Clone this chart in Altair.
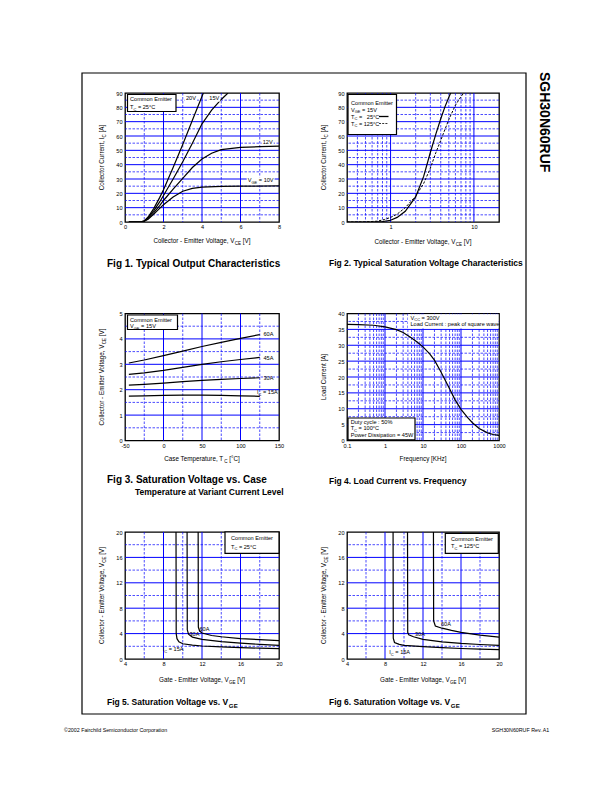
import altair as alt
import pandas as pd

# ---------------- Fig 1: typical output characteristics ----------------
f1_x_20v = [0.2, 0.8, 1.0, 1.2, 1.5, 1.8, 2.0, 2.5, 3.0, 3.5, 4.07]
f1_y_20v = [0, 0, 0.8, 3.5, 9.5, 17, 22.5, 38, 54, 71, 90]
f1_x_15v = [0.2, 0.8, 1.0, 1.2, 1.5, 1.8, 2.0, 2.5, 3.0, 3.5, 4.0, 4.5, 5.0, 5.35]
f1_y_15v = [0, 0, 0.7, 3, 8, 14, 18.5, 30, 42, 55, 68.5, 78, 85.5, 90]
f1_x_12v = [0.2, 0.8, 1.0, 1.2, 1.5, 1.8, 2.0, 2.5, 3.0, 3.5, 4.0, 4.5, 5.0, 6.0, 7.0, 8.0]
f1_y_12v = [0, 0, 0.6, 2.5, 6.5, 11.5, 15, 23, 30.5, 38, 44, 48, 50.5, 52, 52.6, 53]
f1_x_10v = [0.2, 0.8, 1.0, 1.2, 1.5, 1.8, 2.0, 2.5, 3.0, 3.5, 4.0, 5.0, 6.0, 8.0]
f1_y_10v = [0, 0, 0.5, 2, 5.5, 9.5, 12, 17.5, 21.5, 23.5, 24.3, 24.8, 25, 25.2]

# ---------------- Fig 2: saturation voltage characteristics ----------------
f2_x_25c = [0.3, 0.6, 0.8, 1.0, 1.2, 1.5, 2.0, 2.5, 3.0, 3.5, 4.0, 4.5, 5.0, 5.26]
f2_y_25c = [0, 0, 0.3, 1.2, 3.2, 7.5, 17.5, 32, 48.5, 61.5, 72, 80.5, 87, 90]
f2_x_125c = [0.3, 0.5, 0.7, 0.85, 1.0, 1.2, 1.5, 2.0, 2.5, 3.0, 3.5, 4.0, 5.0, 6.0, 7.0, 7.55]
f2_y_125c = [0, 0.1, 0.6, 1.8, 3.2, 5.5, 10, 18, 27, 37.5, 48.5, 57, 71.5, 81.5, 87.5, 90]

# ---------------- Fig 3: VCE vs case temperature ----------------
f3_tc = [-45, -25, 0, 25, 50, 75, 100, 125]
f3_60a = [3.05, 3.17, 3.34, 3.52, 3.70, 3.86, 4.02, 4.17]
f3_45a = [2.60, 2.66, 2.76, 2.88, 3.00, 3.10, 3.19, 3.27]
f3_30a = [2.18, 2.21, 2.26, 2.32, 2.37, 2.41, 2.44, 2.47]
f3_15a = [1.75, 1.76, 1.78, 1.79, 1.79, 1.78, 1.76, 1.74]

# ---------------- Fig 4: load current vs frequency ----------------
f4_freq = [0.1, 0.2, 0.5, 1, 2, 3, 5, 7, 10, 15, 20, 30, 40, 50, 70, 100, 150, 200, 300, 500, 700, 1000]
f4_load = [36.6, 36.5, 36.3, 35.8, 34.9, 34.0, 32.3, 31.0, 29.5, 27.3, 25.3, 21.5, 18.6, 16.3, 12.8, 9.8, 7.2, 5.6, 3.8, 2.4, 1.9, 1.6]

# ---------------- Fig 5: VCE vs VGE, Tc = 25 C ----------------
f5_x_15a = [9.30, 9.32, 9.40, 9.60, 10.0, 11.0, 12.0, 14.0, 16.0, 18.0, 20.0]
f5_y_15a = [20, 4.0, 3.2, 2.7, 2.4, 2.2, 2.05, 1.9, 1.8, 1.7, 1.63]
f5_x_30a = [10.45, 10.47, 10.6, 11.0, 12.0, 14.0, 16.0, 18.0, 20.0]
f5_y_30a = [20, 4.6, 3.9, 3.45, 3.1, 2.75, 2.5, 2.3, 2.15]
f5_x_60a = [11.6, 11.62, 11.75, 12.0, 13.0, 14.0, 16.0, 18.0, 20.0]
f5_y_60a = [20, 5.0, 4.4, 4.1, 3.7, 3.5, 3.2, 3.05, 2.9]

# ---------------- Fig 6: VCE vs VGE, Tc = 125 C ----------------
f6_x_15a = [8.85, 8.87, 9.0, 9.5, 10.0, 12.0, 14.0, 16.0, 18.0, 20.0]
f6_y_15a = [20, 3.3, 2.6, 2.3, 2.15, 1.95, 1.8, 1.65, 1.55, 1.48]
f6_x_30a = [10.37, 10.39, 10.5, 11.0, 12.0, 14.0, 16.0, 18.0, 20.0]
f6_y_30a = [20, 4.2, 3.8, 3.5, 3.1, 2.7, 2.45, 2.28, 2.15]
f6_x_60a = [13.1, 13.12, 13.3, 14.0, 15.0, 16.0, 18.0, 20.0]
f6_y_60a = [20, 6.0, 5.2, 4.85, 4.5, 4.2, 3.75, 3.45]

# ---------------- tick values ----------------
ticks_f1_x = [0, 2, 4, 6, 8]
ticks_0_90 = [0, 10, 20, 30, 40, 50, 60, 70, 80, 90]
ticks_f2_x = [1, 10]
ticks_f3_x = [-50, 0, 50, 100, 150]
ticks_f3_y = [0, 1, 2, 3, 4, 5]
ticks_f4_x = [0.1, 1, 10, 100, 1000]
ticks_f4_y = [0, 5, 10, 15, 20, 25, 30, 35, 40]
ticks_4_20 = [4, 8, 12, 16, 20]
ticks_0_20 = [0, 4, 8, 12, 16, 20]

FONT = "Liberation Sans"
BLUE = "#0000ff"

# ---------------- text metrics (Arial/Helvetica compatible) ----------------
HELV = dict(zip(" !%(),-./:=[]°©", [278, 278, 889, 333, 333, 278, 333, 278, 278, 278, 584, 278, 278, 400, 737]))
HELV.update({d: 556 for d in "0123456789"})
HELV.update(dict(zip("ABCDEFGHIJKLMNOPQRSTUVWXYZ",
                     [667, 667, 722, 722, 667, 611, 778, 722, 278, 500, 667, 556, 833, 722, 778, 667, 778, 722, 667, 611, 722, 667, 944, 667, 667, 611])))
HELV.update(dict(zip("abcdefghijklmnopqrstuvwxyz",
                     [556, 556, 500, 556, 556, 278, 556, 556, 222, 222, 500, 222, 833, 556, 556, 556, 556, 333, 500, 278, 556, 500, 722, 500, 500, 500])))
HELVB = dict(zip(" .,-:%", [278, 278, 278, 333, 333, 889]))
HELVB.update({d: 556 for d in "0123456789"})
HELVB.update(dict(zip("ABCDEFGHIJKLMNOPQRSTUVWXYZ",
                      [722, 722, 722, 722, 667, 611, 778, 722, 278, 556, 722, 611, 833, 722, 778, 667, 778, 722, 667, 611, 722, 667, 944, 667, 667, 611])))
HELVB.update(dict(zip("abcdefghijklmnopqrstuvwxyz",
                      [556, 611, 556, 611, 556, 333, 611, 611, 278, 278, 556, 278, 889, 611, 611, 611, 611, 389, 556, 333, 611, 556, 778, 556, 556, 500])))


def tw(t, size, bold=False):
    tb = HELVB if bold else HELV
    return sum(tb.get(c, 556) for c in t) * size / 1000.0


def rich(segs, x, y, size, anchor="start", rot=False, bold=False):
    """Text with subscripts; (x, y) = page position, y is the visual middle."""
    parts = []
    for seg in segs:
        t, sub = seg if isinstance(seg, tuple) else (seg, False)
        parts.append((t, size * (0.72 if sub else 1.0), sub))
    total = sum(tw(t, fs, bold) for t, fs, _ in parts)
    pos = {"start": 0.0, "middle": -total / 2, "end": -total}[anchor]
    rows = []
    base = size * 0.36
    for t, fs, sub in parts:
        lead = len(t) - len(t.lstrip(" "))
        p = pos + tw(t[:lead], fs, bold)
        shift = size * 0.32 if sub else 0.0
        if t.strip():
            if rot:
                rows.append(dict(x=x + base + shift, y=y - p, t=t.strip(), s=fs))
            else:
                rows.append(dict(x=x + p, y=y + base + shift, t=t.strip(), s=fs))
        pos += tw(t, fs, bold)
    return rows


def label_bg(segs, x, y, size):
    """White patch behind an in-plot label (the reference hides grid lines there)."""
    w = sum(tw(t if isinstance(t, str) else t[0], size * (0.72 if isinstance(t, tuple) else 1.0)) for t in segs)
    return dict(x1=x - 1, y1=y - size * 0.55, x2=x + w + 1, y2=y + size * 0.6, f="white", st="transparent", sw=0)


def curves(*series):
    rows = []
    for name, xs, ys in series:
        for i, (a, b) in enumerate(zip(xs, ys)):
            rows.append(dict(x=a, y=b, s=name, i=i))
    return pd.DataFrame(rows)


def mk_axis(vals, pad):
    return alt.Axis(values=vals, labelExpr="datum.value + ''", title=None, grid=False, ticks=False,
                    domain=False, labelPadding=pad, labelFontSize=5.6, labelColor="black",
                    labelFont=FONT, labelOverlap=False, labelFlush=False)


PX = lambda f: alt.X(f, type="quantitative", scale=None)
PY = lambda f: alt.Y(f, type="quantitative", scale=None)


def shift_df(rows, ox, oy, keys_x=("x",), keys_y=("y",)):
    df = pd.DataFrame(rows)
    for k in keys_x:
        df[k] = df[k] - ox
    for k in keys_y:
        df[k] = df[k] - oy
    return df


def text_layer(rows, ox, oy, **kw):
    return alt.Chart(shift_df(list(rows), ox, oy)).mark_text(
        align="left", baseline="alphabetic", color="black", font=FONT, **kw).encode(
        x=PX("x"), y=PY("y"), text="t:N", size=alt.Size("s:Q", scale=None))


def panel(o, pw, ph, xsc, ysc, xvals, yvals, vmaj, vmin, hmaj, hmin, solid, dashed=None,
          rects=(), segs=(), texts=(), rtexts=(), btexts=(), extra=()):
    ox, oy = o
    xa = mk_axis(xvals, 2.5)
    ya = mk_axis(yvals, 3)
    X = lambda f: alt.X(f, type="quantitative", scale=xsc, axis=xa)
    Y = lambda f: alt.Y(f, type="quantitative", scale=ysc, axis=ya)
    L = []
    L.append(alt.Chart(pd.DataFrame({"v": vmin})).mark_rule(color=BLUE, strokeWidth=0.7, strokeDash=[2.5, 1.5]).encode(x=X("v")))
    L.append(alt.Chart(pd.DataFrame({"v": vmaj})).mark_rule(color=BLUE, strokeWidth=1.0).encode(x=X("v")))
    L.append(alt.Chart(pd.DataFrame({"v": hmin})).mark_rule(color=BLUE, strokeWidth=0.7, strokeDash=[2.5, 1.5]).encode(y=Y("v")))
    L.append(alt.Chart(pd.DataFrame({"v": hmaj})).mark_rule(color=BLUE, strokeWidth=1.0).encode(y=Y("v")))
    L.append(alt.Chart(solid).mark_line(color="black", strokeWidth=1.2, clip=True).encode(
        x=X("x"), y=Y("y"), detail="s:N", order="i:Q"))
    if dashed is not None:
        L.append(alt.Chart(dashed).mark_line(color="black", strokeWidth=1.0, strokeDash=[2.5, 1.5], clip=True).encode(
            x=X("x"), y=Y("y"), detail="s:N", order="i:Q"))
    if rects:
        rdf = shift_df(list(rects), ox, oy, ("x1", "x2"), ("y1", "y2"))
        L.append(alt.Chart(rdf).mark_rect().encode(
            x=PX("x1"), x2="x2:Q", y=PY("y1"), y2="y2:Q",
            fill=alt.Fill("f:N", scale=None), stroke=alt.Stroke("st:N", scale=None),
            strokeWidth=alt.StrokeWidth("sw:Q", scale=None)))
    for sg in segs:
        sdf = shift_df([sg], ox, oy, ("x1", "x2"), ("y",))
        kw = dict(color="black", strokeWidth=sg["w"])
        if sg["dash"]:
            kw["strokeDash"] = [2, 1.2]
        L.append(alt.Chart(sdf).mark_rule(**kw).encode(x=PX("x1"), x2="x2:Q", y=PY("y")))
    if texts:
        L.append(text_layer(texts, ox, oy))
    if rtexts:
        L.append(text_layer(rtexts, ox, oy, angle=270))
    if btexts:
        L.append(text_layer(btexts, ox, oy, fontWeight="bold"))
    L.extend(extra)
    return alt.layer(*L).properties(width=pw, height=ph)


def box(x1, y1, x2, y2, fill="white", stroke="black", sw=1.2):
    return dict(x1=x1, y1=y1, x2=x2, y2=y2, f=fill, st=stroke, sw=sw)


S = 5.6    # small annotation text
T = 6.3    # axis title text
C = 10     # caption text
CN = 8.5   # caption text (tighter captions)
lin = lambda lo, hi: alt.Scale(domain=[lo, hi], nice=False, zero=False)
logs = lambda lo, hi: alt.Scale(type="log", domain=[lo, hi], nice=False, zero=False)
minors = lambda decs: [m * d for d in decs for m in range(2, 10)]

VCE_Y = ["Collector - Emitter Voltage, V", ("CE", True), " [V]"]
L10 = ["V", ("GE", True), " = 10V"]

# ---------------- panel 1 (also carries page frame, side title, footer) ----------------
O1 = (124, 92)
side = alt.Chart(pd.DataFrame({"t": ["SGH30N60RUF"]})).mark_text(
    angle=90, align="left", baseline="middle", font=FONT, fontWeight="bold", fontSize=14, color="black").encode(
    x=alt.value(543 - O1[0]), y=alt.value(71 - O1[1]), text="t:N")
p1 = panel(
    O1, 154, 129, lin(0, 8), lin(0, 90), ticks_f1_x, ticks_0_90,
    [2, 4, 6], [1, 3, 5, 7], list(range(10, 90, 10)), list(range(5, 90, 10)),
    curves(("20V", f1_x_20v, f1_y_20v), ("15V", f1_x_15v, f1_y_15v),
           ("12V", f1_x_12v, f1_y_12v), ("10V", f1_x_10v, f1_y_10v)),
    rects=[box(8, 8, 9, 9, "white", "transparent", 0),
           box(81, 72, 525, 713, "transparent", "black", 1.2),
           box(126.5, 93.5, 175, 110.5),
           label_bg(["20V"], 185, 97.3, S), label_bg(["15V"], 208.3, 97.3, S),
           label_bg(["12V"], 261.7, 140.7, S), label_bg(L10, 246.7, 179.3, S)],
    texts=rich(["Common Emitter"], 129, 98.3, S)
    + rich(["T", ("C", True), " = 25°C"], 129, 106, S)
    + rich(["20V"], 185, 97.3, S) + rich(["15V"], 208.3, 97.3, S)
    + rich(["12V"], 261.7, 140.7, S)
    + rich(L10, 246.7, 179.3, S)
    + rich(["Collector - Emitter Voltage, V", ("CE", True), " [V]"], 201, 239.5, T, "middle")
    + rich(["©2002 Fairchild Semiconductor Corporation"], 63, 729, 5.3)
    + rich(["SGH30N60RUF Rev. A1"], 549, 729, 5.3, "end"),
    rtexts=rich(["Collector Current, I", ("C", True), " [A]"], 101, 156.5, T, "middle", rot=True),
    btexts=rich(["Fig 1. Typical Output Characteristics"], 106, 262, C, bold=True),
    extra=[side],
)

# ---------------- panel 2 ----------------
O2 = (346, 92)
p2 = panel(
    O2, 152, 129, logs(0.3, 20), lin(0, 90), ticks_f2_x, ticks_0_90,
    [1, 10], [0.4, 0.5, 0.6, 0.7, 0.8, 0.9] + minors([1]), list(range(10, 90, 10)), list(range(5, 90, 10)),
    curves(("25C", f2_x_25c, f2_y_25c)), curves(("125C", f2_x_125c, f2_y_125c)),
    rects=[box(347, 93.5, 395.5, 133.5)],
    segs=[dict(x1=378, x2=387.5, y=115.5, w=1.3, dash=False), dict(x1=378, x2=387.5, y=122.5, w=0.8, dash=True)],
    texts=rich(["Common Emitter"], 350, 101.5, S)
    + rich(["V", ("GE", True), " = 15V"], 350, 108.5, S)
    + rich(["T", ("C", True), " =", "   25°C"], 350, 115.5, S)
    + rich(["T", ("C", True), " = 125°C"], 350, 122.5, S)
    + rich(["Collector - Emitter Voltage, V", ("CE", True), " [V]"], 422, 240.5, T, "middle"),
    rtexts=rich(["Collector Current, I", ("C", True), " [A]"], 322.5, 156.5, T, "middle", rot=True),
    btexts=rich(["Fig 2. Typical Saturation Voltage Characteristics"], 328, 262, CN, bold=True),
)

# ---------------- panel 3 ----------------
O3 = (124, 310)
p3 = panel(
    O3, 154, 127, lin(-50, 150), lin(0, 5), ticks_f3_x, ticks_f3_y,
    [0, 50, 100], [-25, 25, 75, 125], [1, 2, 3, 4], [0.5, 1.5, 2.5, 3.5, 4.5],
    curves(("60A", f3_tc, f3_60a), ("45A", f3_tc, f3_45a), ("30A", f3_tc, f3_30a), ("15A", f3_tc, f3_15a)),
    rects=[box(126.5, 311.5, 176.5, 326)],
    texts=rich(["Common Emitter"], 129, 316.3, S)
    + rich(["V", ("GE", True), " = 15V"], 129, 322.5, S)
    + rich(["60A"], 262.5, 330, S) + rich(["45A"], 262.5, 354, S) + rich(["30A"], 262.5, 374.7, S)
    + rich(["I", ("C", True), " = 15A"], 256, 388.3, S)
    + rich(["Case Temperature, T", ("C", True), " [°C]"], 201, 455, T, "middle"),
    rtexts=rich(VCE_Y, 101, 373.5, T, "middle", rot=True),
    btexts=rich(["Fig 3. Saturation Voltage vs. Case"], 106, 476, C, bold=True)
    + rich(["Temperature at Variant Current Level"], 134, 488, CN, bold=True),
)

# ---------------- panel 4 ----------------
O4 = (346, 310)
p4 = panel(
    O4, 152, 127, logs(0.1, 1000), lin(0, 40), ticks_f4_x, ticks_f4_y,
    [1, 10, 100], minors([0.1, 1, 10, 100]), [5, 10, 15, 20, 25, 30, 35], [2.5, 7.5, 12.5, 17.5, 22.5, 27.5, 32.5, 37.5],
    curves(("load", f4_freq, f4_load)),
    rects=[box(407, 310.8, 497.5, 325, "white", "transparent", 0), box(347, 414.5, 414, 436.3)],
    texts=rich(["V", ("CC", True), " = 300V"], 409.5, 314, S)
    + rich(["Load Current : peak of square wave"], 409.5, 320.7, S)
    + rich(["Duty cycle : 50%"], 349.7, 418, S)
    + rich(["T", ("C", True), " = 100°C"], 349.7, 424.7, S)
    + rich(["Power Dissipation = 45W"], 349.7, 431.3, S)
    + rich(["Frequency [KHz]"], 422, 455, T, "middle"),
    rtexts=rich(["Load Current [A]"], 323, 373.5, T, "middle", rot=True),
    btexts=rich(["Fig 4. Load Current vs. Frequency"], 328, 477, CN, bold=True),
)

# ---------------- panel 5 ----------------
O5 = (124, 531)
p5 = panel(
    O5, 154, 127, lin(4, 20), lin(0, 20), ticks_4_20, ticks_0_20,
    [8, 12, 16], [6, 10, 14, 18], [4, 8, 12, 16], [2, 6, 10, 14, 18],
    curves(("15A", f5_x_15a, f5_y_15a), ("30A", f5_x_30a, f5_y_30a), ("60A", f5_x_60a, f5_y_60a)),
    rects=[box(224, 530.8, 278, 552.3)],
    texts=rich(["Common Emitter"], 230, 537.3, S)
    + rich(["T", ("C", True), " = 25°C"], 230, 545.5, S)
    + rich(["60A"], 198.5, 627.5, S) + rich(["30A"], 188.5, 633, S)
    + rich(["I", ("C", True), " = 15A"], 161.7, 648.3, S)
    + rich(["Gate - Emitter Voltage, V", ("GE", True), " [V]"], 201, 678.5, T, "middle"),
    rtexts=rich(VCE_Y, 101, 594.5, T, "middle", rot=True),
    btexts=rich(["Fig 5. Saturation Voltage vs. V", ("GE", True)], 106, 701, CN, bold=True),
)

# ---------------- panel 6 ----------------
O6 = (346, 531)
p6 = panel(
    O6, 152, 127, lin(4, 20), lin(0, 20), ticks_4_20, ticks_0_20,
    [8, 12, 16], [6, 10, 14, 18], [4, 8, 12, 16], [2, 6, 10, 14, 18],
    curves(("15A", f6_x_15a, f6_y_15a), ("30A", f6_x_30a, f6_y_30a), ("60A", f6_x_60a, f6_y_60a)),
    rects=[box(444.3, 532.3, 497.3, 552.3)],
    texts=rich(["Common Emitter"], 450, 538.3, S)
    + rich(["T", ("C", True), " = 125°C"], 450, 545, S)
    + rich(["60A"], 440, 623.3, S) + rich(["30A"], 414, 632.7, S)
    + rich(["I", ("C", True), " = 15A"], 388.3, 650.7, S)
    + rich(["Gate - Emitter Voltage, V", ("GE", True), " [V]"], 422, 679, T, "middle"),
    rtexts=rich(VCE_Y, 322.5, 594.5, T, "middle", rot=True),
    btexts=rich(["Fig 6. Saturation Voltage vs. V", ("GE", True)], 328, 701, CN, bold=True),
)

chart = alt.concat(
    p1, p2, p3, p4, p5, p6, columns=2, spacing={"row": 91.5, "column": 68}, bounds="flush"
).configure_view(stroke="black", strokeWidth=1.3).properties(padding=0, background="white")

chart.save("out.html", embed_options={"renderer": "svg", "actions": False})
